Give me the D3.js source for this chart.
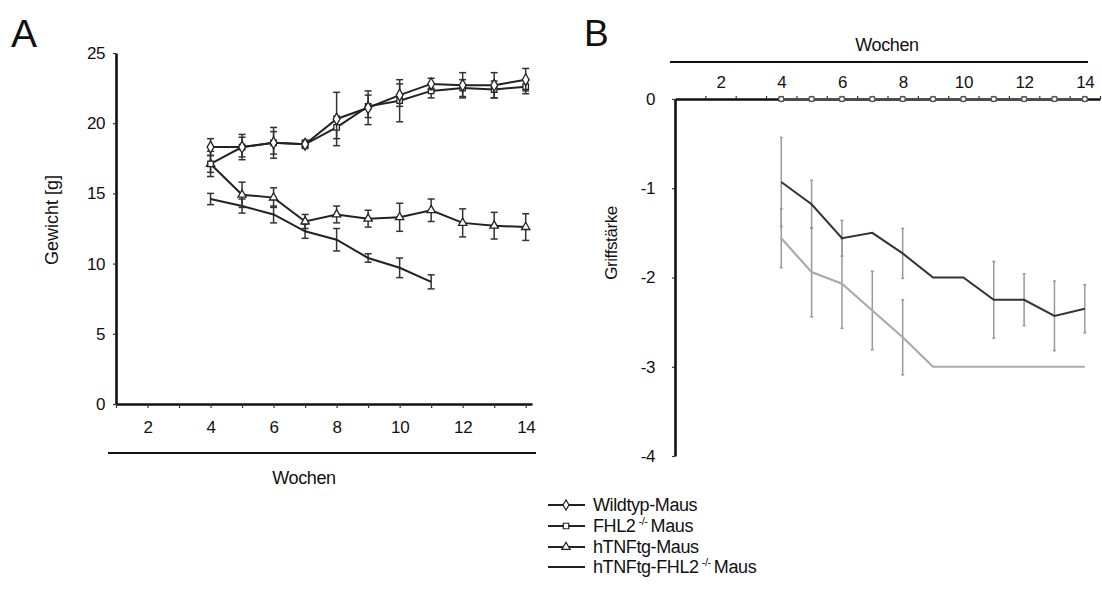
<!DOCTYPE html>
<html>
<head>
<meta charset="utf-8">
<script src="https://cdn.jsdelivr.net/npm/d3@7"></script>
<style>
  body { margin: 0; background: #fff; }
  svg text { font-family: "Liberation Sans", Arial, sans-serif; fill: #111; letter-spacing: -0.4px; }
</style>
</head>
<body>
<svg id="chart" width="1102" height="606"></svg>
<script>
// ---- data ----
var weeks = [4, 5, 6, 7, 8, 9, 10, 11, 12, 13, 14];
var weeksShort = [4, 5, 6, 7, 8, 9, 10, 11];

// Panel A: Gewicht [g]
var wildtypA = [18.3, 18.3, 18.6, 18.5, 20.3, 21.1, 22.0, 22.8, 22.7, 22.7, 23.1];
var wildtypErrA = [0.6, 0.9, 1.1, 0.3, 1.9, 1.2, 0.8, 0.4, 0.9, 0.9, 0.8];
var fhl2A = [17.1, 18.3, 18.6, 18.5, 19.7, 21.2, 21.6, 22.3, 22.5, 22.4, 22.6];
var fhl2ErrA = [0.9, 0.7, 0.8, 0.2, 0.8, 0.8, 1.5, 0.5, 0.6, 0.6, 0.5];
var tnfA = [17.1, 14.9, 14.7, 13.0, 13.5, 13.2, 13.3, 13.8, 12.9, 12.7, 12.6];
var tnfErrA = [0.6, 0.9, 0.7, 0.5, 0.6, 0.6, 1.0, 0.8, 1.0, 0.95, 0.95];
var tnfFhl2A = [14.6, 14.1, 13.5, 12.3, 11.7, 10.4, 9.7, 8.7];
var tnfFhl2ErrA = [0.4, 0.5, 0.6, 0.5, 0.8, 0.3, 0.7, 0.5];

// Panel B: Griffstärke
var wildtypB = [0, 0, 0, 0, 0, 0, 0, 0, 0, 0, 0];
var fhl2B = [0, 0, 0, 0, 0, 0, 0, 0, 0, 0, 0];
var tnfB = [-0.93, -1.18, -1.56, -1.5, -1.73, -2.0, -2.0, -2.25, -2.25, -2.43, -2.35];
var tnfErrB = [0.5, 0.27, 0.2, 0, 0.28, 0, 0, 0.43, 0.29, 0.39, 0.27];
var tnfFhl2B = [-1.56, -1.94, -2.07, -2.37, -2.67, -3, -3, -3, -3, -3, -3];
var tnfFhl2ErrB = [0.33, 0.5, 0.5, 0.44, 0.42, 0, 0, 0, 0, 0, 0];

var yTicksA = [0, 5, 10, 15, 20, 25];
var xTicksA = [1, 2, 3, 4, 5, 6, 7, 8, 9, 10, 11, 12, 13, 14];
var xLabelsA = [2, 4, 6, 8, 10, 12, 14];
var yTicksB = [0, -1, -2, -3, -4];
var yLabelsB = ["0", "-1", "-2", "-3", "-4"];
var xTicksB = [1.5, 2.5, 3.5, 4.5, 5.5, 6.5, 7.5, 8.5, 9.5, 10.5, 11.5, 12.5, 13.5, 14.5];
var xLabelsB = [2, 4, 6, 8, 10, 12, 14];

var legendLabels = ["Wildtyp-Maus", "FHL2", "hTNFtg-Maus", "hTNFtg-FHL2"];
var legendSymbols = ["diamond", "square", "triangle", "none"];

// ---- helpers ----
var svg = d3.select("#chart");

function zip(xs, ys, es) {
    return xs.map(function(x, i) { return {x: x, y: ys[i], e: es ? es[i] : 0}; });
}

function symbolType(name) {
    if (name === "diamond") return d3.symbolDiamond;
    if (name === "square") return d3.symbolSquare;
    if (name === "triangle") return d3.symbolTriangle;
    return d3.symbolCircle;
}

function drawSeries(g, pts, x, y, opts) {
    var line = d3.line().x(function(d) { return x(d.x); }).y(function(d) { return y(d.y); });
    var cap = opts.cap;

    // error bars
    var bars = g.append("g").selectAll("g").data(pts.filter(function(d) { return d.e > 0; }))
        .enter().append("g")
        .attr("stroke", opts.errColor).attr("stroke-width", 1.5);
    bars.append("line")
        .attr("x1", function(d) { return x(d.x); }).attr("x2", function(d) { return x(d.x); })
        .attr("y1", function(d) { return y(d.y - d.e); }).attr("y2", function(d) { return y(d.y + d.e); });
    bars.append("line")
        .attr("x1", function(d) { return x(d.x) - cap; }).attr("x2", function(d) { return x(d.x) + cap; })
        .attr("y1", function(d) { return y(d.y + d.e); }).attr("y2", function(d) { return y(d.y + d.e); });
    bars.append("line")
        .attr("x1", function(d) { return x(d.x) - cap; }).attr("x2", function(d) { return x(d.x) + cap; })
        .attr("y1", function(d) { return y(d.y - d.e); }).attr("y2", function(d) { return y(d.y - d.e); });

    g.append("path").datum(pts)
        .attr("d", line)
        .attr("fill", "none")
        .attr("stroke", opts.color)
        .attr("stroke-width", opts.width || 2);

    if (opts.symbol && opts.symbol !== "none") {
        g.append("g").selectAll("path").data(pts)
            .enter().append("path")
            .attr("transform", function(d) { return "translate(" + x(d.x) + "," + y(d.y) + ")"; })
            .attr("d", d3.symbol().type(symbolType(opts.symbol)).size(opts.size || 36))
            .attr("fill", "#fff")
            .attr("stroke", opts.color)
            .attr("stroke-width", 1.3);
    }
}

function styleAxis(g) {
    g.selectAll(".domain").attr("stroke", "#111").attr("stroke-width", 2.6);
    g.selectAll(".tick line").attr("stroke", "#333").attr("stroke-width", 1.2);
    g.selectAll("text").style("font-size", "17px").attr("fill", "#111");
}

// ---- Panel A ----
var xA = d3.scaleLinear().domain([1, 14.2]).range([116, 532]);
var yA = d3.scaleLinear().domain([0, 25]).range([404, 53]);

svg.append("text").attr("x", 11).attr("y", 47).style("font-size", "39px").style("letter-spacing", "0").text("A");

svg.append("g").attr("transform", "translate(116,0)")
    .call(d3.axisLeft(yA).tickValues(yTicksA).tickSize(3).tickSizeOuter(0).tickPadding(8))
    .call(styleAxis);

svg.append("g").attr("transform", "translate(0,404)")
    .call(d3.axisBottom(xA).tickValues(xTicksA).tickSize(4).tickSizeOuter(0).tickPadding(13)
        .tickFormat(function(d) { return xLabelsA.indexOf(d) >= 0 ? d : ""; }))
    .call(styleAxis);

svg.append("line").attr("x1", 108).attr("x2", 536).attr("y1", 453).attr("y2", 453)
    .attr("stroke", "#111").attr("stroke-width", 2.2);
svg.append("text").attr("x", 304).attr("y", 484).attr("text-anchor", "middle")
    .style("font-size", "18px").text("Wochen");
svg.append("text").attr("transform", "translate(58,220) rotate(-90)").attr("text-anchor", "middle")
    .style("font-size", "18px").style("letter-spacing", "0").text("Gewicht [g]");

var gA = svg.append("g");
var darkA = {color: "#222", errColor: "#333", cap: 3.5, width: 2};
drawSeries(gA, zip(weeksShort, tnfFhl2A, tnfFhl2ErrA), xA, yA, Object.assign({}, darkA, {symbol: "none"}));
drawSeries(gA, zip(weeks, tnfA, tnfErrA), xA, yA, Object.assign({}, darkA, {symbol: "triangle", size: 30}));
drawSeries(gA, zip(weeks, fhl2A, fhl2ErrA), xA, yA, Object.assign({}, darkA, {symbol: "square", size: 30}));
drawSeries(gA, zip(weeks, wildtypA, wildtypErrA), xA, yA, Object.assign({}, darkA, {symbol: "diamond", size: 40}));

// ---- Panel B ----
var xB = d3.scaleLinear().domain([0.5, 14.5]).range([675, 1100]);
var yB = d3.scaleLinear().domain([-4, 0]).range([456, 99]);

svg.append("text").attr("x", 584).attr("y", 46).style("font-size", "37px").style("letter-spacing", "0").text("B");

svg.append("g").attr("transform", "translate(675,0)")
    .call(d3.axisLeft(yB).tickValues(yTicksB).tickSize(3).tickSizeOuter(0).tickPadding(17)
        .tickFormat(function(d, i) { return yLabelsB[i]; }))
    .call(styleAxis);

svg.append("g").attr("transform", "translate(0,99)")
    .call(d3.axisTop(xB).tickValues(xTicksB).tickSize(3).tickSizeOuter(0).tickFormat(""))
    .call(styleAxis);

var labB = svg.append("g").attr("transform", "translate(0,99)")
    .call(d3.axisTop(xB).tickValues(xLabelsB).tickSize(0).tickPadding(11));
labB.select(".domain").remove();
labB.call(styleAxis);

svg.append("line").attr("x1", 670).attr("x2", 1088).attr("y1", 62).attr("y2", 62)
    .attr("stroke", "#111").attr("stroke-width", 2.2);
svg.append("text").attr("x", 887).attr("y", 51).attr("text-anchor", "middle")
    .style("font-size", "18px").text("Wochen");
svg.append("text").attr("transform", "translate(617,243) rotate(-90)").attr("text-anchor", "middle")
    .style("font-size", "17px").text("Griffstärke");

var gB = svg.append("g");
drawSeries(gB, zip(weeks, tnfFhl2B, tnfFhl2ErrB), xB, yB, {color: "#aaa", errColor: "#999", cap: 1.5, width: 2.2, symbol: "none"});
drawSeries(gB, zip(weeks, tnfB, tnfErrB), xB, yB, {color: "#333", errColor: "#999", cap: 1.5, width: 2, symbol: "none"});
drawSeries(gB, zip(weeks, fhl2B), xB, yB, {color: "#444", errColor: "#999", cap: 1.5, width: 1.5, symbol: "square", size: 18});
drawSeries(gB, zip(weeks, wildtypB), xB, yB, {color: "#555", errColor: "#999", cap: 1.5, width: 1.5, symbol: "circle", size: 20});

// ---- legend ----
var legend = svg.append("g").attr("transform", "translate(548,505)");
var rows = legend.selectAll("g").data(legendLabels).enter().append("g")
    .attr("transform", function(d, i) { return "translate(0," + [0, 21, 42, 62][i] + ")"; });
rows.append("line").attr("x1", 0).attr("x2", 37).attr("y1", 0).attr("y2", 0)
    .attr("stroke", "#222").attr("stroke-width", 2);
rows.filter(function(d, i) { return legendSymbols[i] !== "none"; })
    .append("path")
    .attr("transform", "translate(18,0)")
    .attr("d", function(d, i) { return d3.symbol().type(symbolType(legendSymbols[i])).size(30)(); })
    .attr("fill", "#fff").attr("stroke", "#222").attr("stroke-width", 1.2);
var lt = rows.append("text").attr("x", 45).attr("y", 6).style("font-size", "18px");
lt.append("tspan").text(function(d) { return d; });
lt.filter(function(d, i) { return i === 1 || i === 3; })
    .append("tspan").attr("dx", 3).attr("dy", -7).style("font-size", "11px").text("-/-");
lt.filter(function(d, i) { return i === 1 || i === 3; })
    .append("tspan").attr("dx", 3).attr("dy", 7).text("Maus");
</script>
</body>
</html>
